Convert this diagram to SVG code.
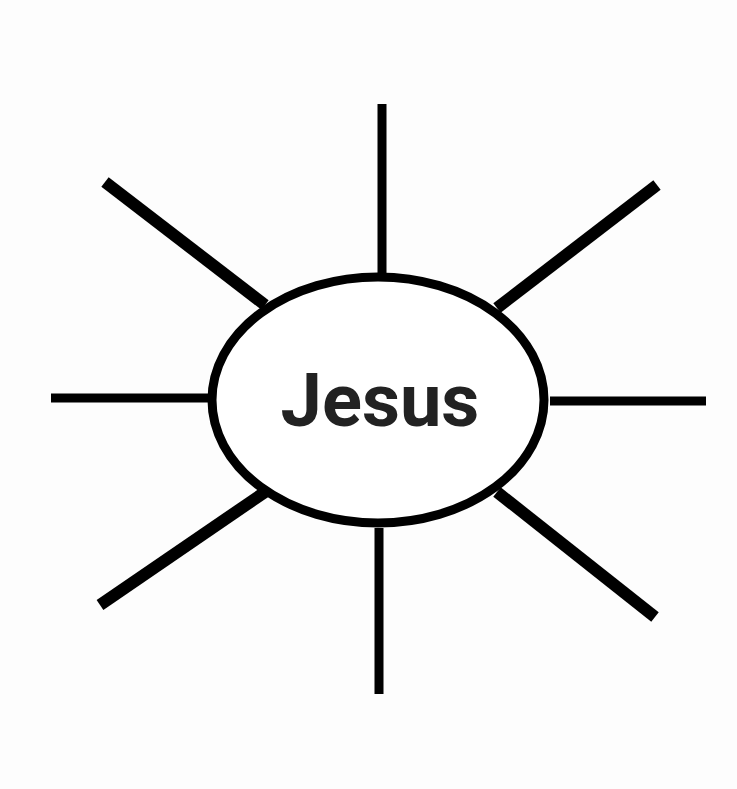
<svg xmlns="http://www.w3.org/2000/svg" width="737" height="789" viewBox="0 0 737 789">
<style>
.ray{stroke:#000;stroke-linecap:butt;fill:none}
.thin{stroke-width:9}
.thick{stroke-width:12}
.lbl{font-family:Roboto,"Liberation Sans",sans-serif;font-weight:bold;font-size:74px;fill:#222}
</style>
<rect width="737" height="789" fill="#fdfdfd"/>
<g id="connectors">
<line class="ray thin" x1="382" y1="104" x2="382" y2="273"/>
<line class="ray thick" x1="105" y1="182" x2="265" y2="305"/>
<line class="ray thick" x1="657" y1="185" x2="497" y2="308"/>
<line class="ray thin" x1="51" y1="398" x2="210" y2="398"/>
<line class="ray thin" x1="550" y1="401" x2="706" y2="401"/>
<line class="ray thick" x1="100" y1="605" x2="265" y2="492"/>
<line class="ray thick" x1="655" y1="617" x2="497" y2="492"/>
<line class="ray thin" x1="379" y1="528" x2="379" y2="694"/>
</g>
<g id="jesus">
<ellipse cx="378" cy="400" rx="166" ry="123" fill="#fff" stroke="#000" stroke-width="9"/>
<text class="lbl" x="380" y="426" text-anchor="middle">Jesus</text>
</g>
</svg>
